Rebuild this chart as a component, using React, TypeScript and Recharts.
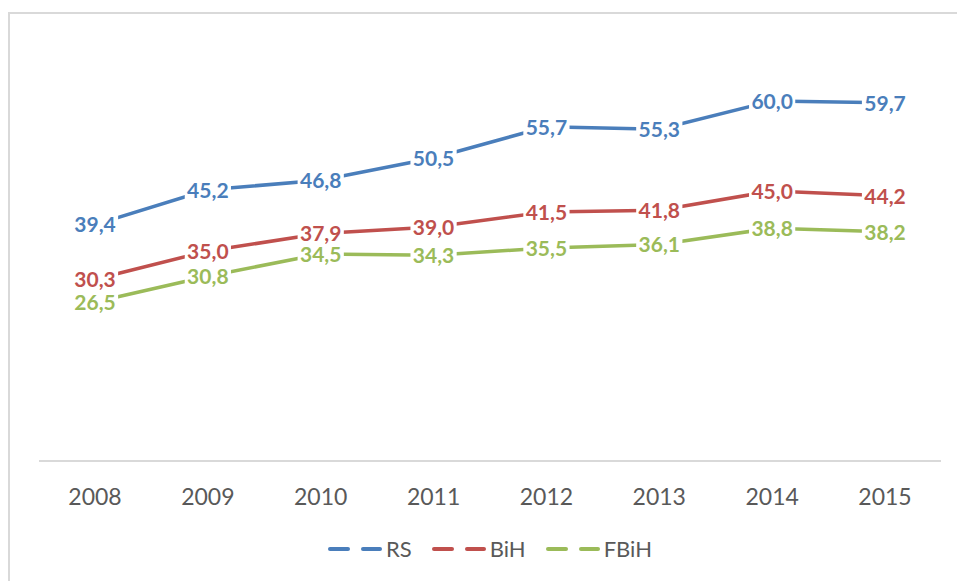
import React from 'react';
import { LineChart, Line, XAxis, YAxis } from 'recharts';

const years = ['2008', '2009', '2010', '2011', '2012', '2013', '2014', '2015'];
const rsValues = [39.4, 45.2, 46.8, 50.5, 55.7, 55.3, 60.0, 59.7];
const bihValues = [30.3, 35.0, 37.9, 39.0, 41.5, 41.8, 45.0, 44.2];
const fbihValues = [26.5, 30.8, 34.5, 34.3, 35.5, 36.1, 38.8, 38.2];

const seriesNames = ['RS', 'BiH', 'FBiH'];
const seriesKeys = ['rs', 'bih', 'fbih'];
const seriesColors = ['#4A7EBB', '#C0504D', '#9BBB59'];

const data = years.map((y, i) => ({
  year: y,
  rs: rsValues[i],
  bih: bihValues[i],
  fbih: fbihValues[i],
}));

const FONT = "Lato, 'Open Sans', 'Liberation Sans', sans-serif";
const LABEL_SIZE = 21;

const fmt = (v: number) => v.toFixed(1).replace('.', ',');

const estimateWidth = (s: string) => {
  let w = 0;
  for (const ch of s) {
    if (ch === ',') w += 0.27 * LABEL_SIZE;
    else w += 0.58 * LABEL_SIZE;
  }
  return w;
};

const makeLabel = (color: string) => (props: any) => {
  const { x, y, value, index } = props;
  if (x == null || y == null) return null;
  const txt = fmt(Number(value));
  const w = estimateWidth(txt);
  return (
    <g key={`lbl-${color}-${index}`}>
      <rect x={x - w / 2 - 2} y={y - 10} width={w + 4} height={20} fill="#ffffff" />
      <text
        x={x}
        y={y}
        dy="0.37em"
        textAnchor="middle"
        fontFamily={FONT}
        fontWeight={700}
        fontSize={LABEL_SIZE}
        fill={color}
      >
        {txt}
      </text>
    </g>
  );
};

const LegendIcon = ({ color }: { color: string }) => (
  <svg width={54} height={6} style={{ display: 'block' }}>
    <line x1={2} y1={3} x2={20} y2={3} stroke={color} strokeWidth={4} strokeLinecap="round" />
    <line x1={35} y1={3} x2={52} y2={3} stroke={color} strokeWidth={4} strokeLinecap="round" />
  </svg>
);

export default function App() {
  return (
    <div
      style={{
        position: 'fixed',
        left: 0,
        top: 0,
        width: 957,
        height: 581,
        overflow: 'hidden',
        background: '#ffffff',
      }}
    >
      <div
        style={{
          position: 'absolute',
          left: 8,
          top: 12,
          width: 1100,
          height: 800,
          border: '2px solid #d9d9d9',
          boxSizing: 'border-box',
        }}
      />
      <div style={{ position: 'absolute', left: 0, top: 0 }}>
        <LineChart
          width={957}
          height={581}
          data={data}
          margin={{ top: 41, right: 16, bottom: 60, left: 39 }}
        >
          <XAxis
            dataKey="year"
            axisLine={{ stroke: '#d9d9d9', strokeWidth: 2 }}
            tickLine={false}
            tickSize={0}
            tickMargin={28}
            height={60}
            padding={{ left: 56, right: 56 }}
            tick={{ fill: '#595959', fontSize: 23, fontFamily: FONT }}
            interval={0}
          />
          <YAxis hide domain={[0, 70]} />
          {seriesKeys.map((k, i) => (
            <Line
              key={k}
              dataKey={k}
              name={seriesNames[i]}
              stroke={seriesColors[i]}
              strokeWidth={3.5}
              dot={false}
              activeDot={false}
              isAnimationActive={false}
              label={makeLabel(seriesColors[i])}
            />
          ))}
        </LineChart>
      </div>
      <div
        style={{
          position: 'absolute',
          left: 39,
          width: 902,
          top: 535,
          height: 28,
          display: 'flex',
          justifyContent: 'center',
          alignItems: 'center',
          gap: 20,
          fontFamily: FONT,
          fontSize: 22,
          color: '#595959',
        }}
      >
        {seriesNames.map((n, i) => (
          <div key={n} style={{ display: 'flex', alignItems: 'center', gap: 4 }}>
            <LegendIcon color={seriesColors[i]} />
            <span style={{ lineHeight: '28px' }}>{n}</span>
          </div>
        ))}
      </div>
    </div>
  );
}
